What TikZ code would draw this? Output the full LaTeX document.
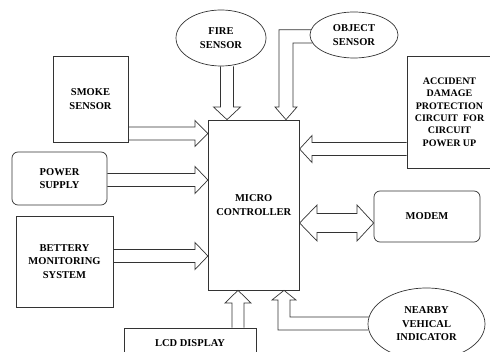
\documentclass[tikz,border=0pt]{standalone}
\usepackage{fontspec}
\setmainfont{Liberation Serif}
\usetikzlibrary{calc, positioning, shapes.geometric}

\tikzset{
  unit/.style={draw=black!80, line width=0.7pt, align=center, inner sep=1pt,
    font=\bfseries\fontsize{10.5}{13.5}\selectfont},
  ubox/.style={unit, rectangle},
  rbox/.style={unit, rectangle, rounded corners=6pt},
  sensor/.style={unit, ellipse},
  flow/.style={draw=black!80, line width=0.7pt, line join=miter}
}

\begin{document}
\begin{tikzpicture}[x=1pt, y=-1pt]
  \useasboundingbox (0,0) rectangle (490,352);
  \node[ubox, minimum width=91, minimum height=170] (mc) at (253.75,205) {MICRO\\CONTROLLER};
  \node[ubox, minimum width=75, minimum height=86] (smoke) at (90.5,99) {SMOKE\\SENSOR};
  \node[rbox, minimum width=95, minimum height=53] (power) at (59.5,178.5) {POWER\\SUPPLY};
  \node[ubox, minimum width=97, minimum height=91] (battery) at (64.5,261.5) {BETTERY\\MONITORING\\SYSTEM};
  \node[ubox, minimum width=132, minimum height=30] (lcd) at (190,343) {LCD DISPLAY};
  \node[rbox, minimum width=106, minimum height=51] (modem) at (427,216.5) {MODEM};
  \node[ubox, minimum width=85, minimum height=112, font=\bfseries\fontsize{10}{12.4}\selectfont]
    (accident) at (449.5,112) {ACCIDENT\\DAMAGE\\PROTECTION\\CIRCUIT~ FOR\\CIRCUIT\\POWER UP};
  \node[sensor, minimum width=90, minimum height=56] (fire) at (221,38) {FIRE\\SENSOR};
  \node[sensor, minimum width=88, minimum height=46] (obj) at (354,35) {OBJECT\\SENSOR};
  \node[sensor, minimum width=117, minimum height=72] (near) at (426.5,324) {NEARBY\\VEHICAL\\INDICATOR};

  \draw[flow] (smoke.east |- 0,127) -- (195,127) -- (195,120.5) -- (mc.west |- 0,133.5)
    -- (195,146.5) -- (195,140) -- (smoke.east |- 0,140);
  \draw[flow] (power.east |- 0,173.5) -- (195,173.5) -- (195,166.5) -- (mc.west |- 0,180)
    -- (195,193.5) -- (195,186.5) -- (power.east |- 0,186.5);
  \draw[flow] (battery.east |- 0,249.5) -- (195,249.5) -- (195,242.5) -- (mc.west |- 0,256)
    -- (195,269.5) -- (195,262.5) -- (battery.east |- 0,262.5);
  \draw[flow] (accident.west |- 0,142.5) -- (312,142.5) -- (312,135.5) -- (mc.east |- 0,149)
    -- (312,162.5) -- (312,155.5) -- (accident.west |- 0,155.5);
  \draw[flow] (220.5,0 |- fire.south) -- (220.5,107) -- (213.5,107) -- (227,0 |- mc.north)
    -- (240.5,107) -- (233.5,107) -- (233.5,0 |- fire.south);
  \draw[flow] (232,0 |- lcd.north) -- (232,303) -- (225,303) -- (238,0 |- mc.south)
    -- (251,303) -- (244,303) -- (244,0 |- lcd.north);
  \draw[flow] (obj.173) -| (279,107) -- (275,107) -- (286,0 |- mc.north)
    -- (297,107) -- (293,107) |- (obj.191);
  \draw[flow] (near.186) -| (278,300) -- (272,300) -- (284,0 |- mc.south)
    -- (296,300) -- (290,300) |- (near.173);
  \draw[flow] (mc.east |- 0,223) -- (317,205) -- (317,213.5) -- (357,213.5) -- (357,205)
    -- (modem.west |- 0,223) -- (357,241) -- (357,232.5) -- (317,232.5) -- (317,241) -- cycle;
\end{tikzpicture}
\end{document}
